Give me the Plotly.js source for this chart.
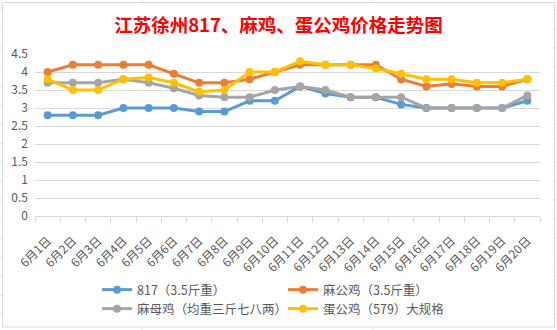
<!DOCTYPE html>
<html>
<head>
<meta charset="utf-8">
<script src="https://cdn.plot.ly/plotly-3.0.1.min.js"></script>
<style>
html,body{margin:0;padding:0;background:#fff;}
#chart{width:557px;height:330px;}
</style>
</head>
<body>
<div id="chart"></div>
<script>
var categories = ["6月1日","6月2日","6月3日","6月4日","6月5日","6月6日","6月7日","6月8日","6月9日","6月10日",
                  "6月11日","6月12日","6月13日","6月14日","6月15日","6月16日","6月17日","6月18日","6月19日","6月20日"];
var names = ["817（3.5斤重）","麻公鸡（3.5斤重）","麻母鸡（均重三斤七八两）","蛋公鸡（579）大规格"];
var s817   = [2.8,2.8,2.8,3.0,3.0,3.0,2.9,2.9,3.2,3.2,3.6,3.4,3.3,3.3,3.1,3.0,3.0,3.0,3.0,3.2];
var maGong = [4.0,4.2,4.2,4.2,4.2,3.95,3.7,3.7,3.8,4.0,4.2,4.2,4.2,4.2,3.8,3.6,3.67,3.6,3.6,3.8];
var maMu   = [3.7,3.7,3.7,3.8,3.7,3.55,3.35,3.3,3.3,3.5,3.6,3.5,3.3,3.3,3.3,3.0,3.0,3.0,3.0,3.35];
var danGong= [3.8,3.5,3.5,3.8,3.85,3.7,3.45,3.5,4.0,4.0,4.3,4.2,4.2,4.1,3.95,3.8,3.8,3.7,3.7,3.8];
var yTicks = [0,0.5,1,1.5,2,2.5,3,3.5,4,4.5];
var yTickText = ["0","0.5","1","1.5","2","2.5","3","3.5","4","4.5"];
var title = "江苏徐州817、麻鸡、蛋公鸡价格走势图";

var colors = ["#5B9BD5","#ED7D31","#A5A5A5","#FFC000"];
var legendRefs = ["legend","legend","legend2","legend2"];
var series = [s817, maGong, maMu, danGong];
var traces = series.map(function(v,i){
  return {
    type:"scatter", mode:"lines+markers", x:categories, y:v, name:names[i],
    legend:legendRefs[i],
    line:{color:colors[i], width:3},
    marker:{color:colors[i], size:8}
  };
});

// pixel -> paper helpers (plot area: l=35, t=54, w=505, h=162)
var L=35, T=54, W=505, H=162;
function px(x){return (x-L)/W;}
function py(y){return (T+H-y)/H;}
var grid = "#d9d9d9";
var shapes = [
  {type:"rect", xref:"paper", yref:"paper", x0:px(2.5), x1:px(554.5), y0:py(2.5), y1:py(327),
   line:{color:grid, width:1}, fillcolor:"rgba(0,0,0,0)"}
];
for (var k=0;k<17;k++){
  var yy = 10+19*k;
  shapes.push({type:"line", xref:"paper", yref:"paper", x0:px(0), x1:px(2.5), y0:py(yy), y1:py(yy), line:{color:"#e0e0e0", width:1}});
  shapes.push({type:"line", xref:"paper", yref:"paper", x0:px(554.5), x1:px(557), y0:py(yy), y1:py(yy), line:{color:"#e0e0e0", width:1}});
}
[142,373].forEach(function(xx){
  shapes.push({type:"line", xref:"paper", yref:"paper", x0:px(xx), x1:px(xx), y0:py(0), y1:py(2.5), line:{color:"#e0e0e0", width:1}});
  shapes.push({type:"line", xref:"paper", yref:"paper", x0:px(xx), x1:px(xx), y0:py(327), y1:py(330), line:{color:"#e0e0e0", width:1}});
});

var font = "Noto Sans CJK SC, Microsoft YaHei, sans-serif";
function legendAt(y){
  return {orientation:"h", x:px(97), xanchor:"left", y:py(y), yanchor:"top",
          entrywidth:141, entrywidthmode:"pixels", bgcolor:"rgba(0,0,0,0)",
          font:{family:font, size:12.5, color:"#595959"}, tracegroupgap:0, itemwidth:30};
}
var layout = {
  width:557, height:330,
  margin:{l:L, r:557-L-W, t:T, b:330-T-H, pad:0, autoexpand:false},
  paper_bgcolor:"#fff", plot_bgcolor:"#fff",
  font:{family:font, size:12, color:"#595959"},
  title:{text:"<b>"+title+"</b>", x:0.5, xref:"container", xanchor:"center",
         y:1-26/330, yref:"container", yanchor:"middle",
         font:{family:font, size:18.5, color:"#FF0000"}},
  showlegend:true,
  legend:legendAt(275),
  legend2:legendAt(294),
  xaxis:{type:"category", range:[-0.5, categories.length-0.5], showgrid:false, showline:true, linecolor:grid, linewidth:1,
         ticks:"outside", ticklen:5, tickcolor:grid, tickson:"boundaries", automargin:false,
         tickangle:-45, ticklabelstandoff:12, tickfont:{family:font, size:12, color:"#595959"}, zeroline:false,
         fixedrange:true},
  yaxis:{range:[0,4.5], tickvals:yTicks, ticktext:yTickText, showgrid:true, gridcolor:grid, gridwidth:1,
         zeroline:false, showline:false, ticks:"", ticklabelstandoff:6, automargin:false,
         tickfont:{family:font, size:12, color:"#595959"}, fixedrange:true},
  shapes:shapes
};
Plotly.newPlot("chart", traces, layout, {displayModeBar:false, staticPlot:true});
</script>
</body>
</html>
